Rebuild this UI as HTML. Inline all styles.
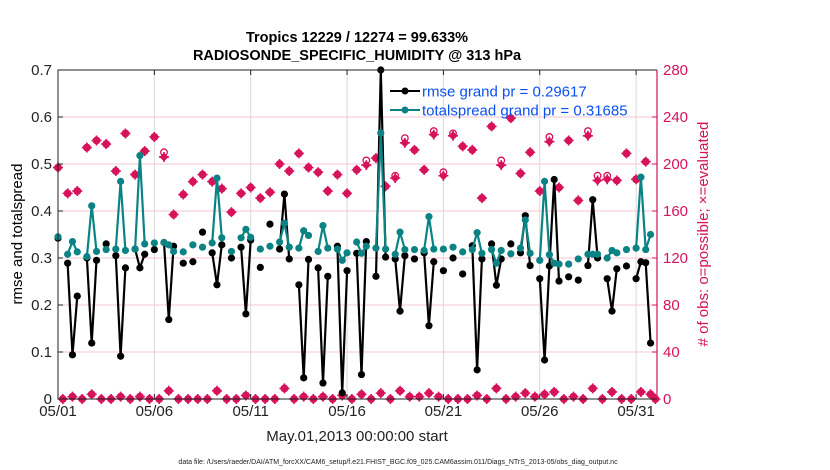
<!DOCTYPE html>
<html><head><meta charset="utf-8"><style>
body{margin:0;background:#fff;font-family:"Liberation Sans",sans-serif}
svg{display:block}
</style></head><body>
<svg id="chart" width="830" height="470" xmlns="http://www.w3.org/2000/svg" font-family="Liberation Sans, sans-serif">
<rect width="830" height="470" fill="#fff"/>
<text x="357" y="42" text-anchor="middle" font-size="14.5" font-weight="bold">Tropics 12229 / 12274 = 99.633%</text>
<text x="357" y="60" text-anchor="middle" font-size="14.5" font-weight="bold">RADIOSONDE_SPECIFIC_HUMIDITY @ 313 hPa</text>
<g id="grid"></g>
<g id="marks"></g>
<g id="axes"></g>
<text transform="translate(22,234) rotate(-90)" text-anchor="middle" font-size="15">rmse and totalspread</text>
<text transform="translate(708,234) rotate(-90)" text-anchor="middle" font-size="15" fill="#d6135a"># of obs: o=possible; ×=evaluated</text>
<text x="357" y="441" text-anchor="middle" font-size="15" fill="#222">May.01,2013 00:00:00 start</text>
<text x="398" y="464" text-anchor="middle" font-size="7" fill="#222">data file: /Users/raeder/DAI/ATM_forcXX/CAM6_setup/f.e21.FHIST_BGC.f09_025.CAM6assim.011/Diags_NTrS_2013-05/obs_diag_output.nc</text>
<g>
<line x1="390" y1="91" x2="420" y2="91" stroke="#000" stroke-width="2"/>
<circle cx="405" cy="91" r="3.5" fill="#000"/>
<text x="422" y="96.5" font-size="15" fill="#0a50f0">rmse grand pr = 0.29617</text>
<line x1="390" y1="110" x2="420" y2="110" stroke="#0b8385" stroke-width="2"/>
<circle cx="405" cy="110" r="3.5" fill="#0b8385"/>
<text x="422" y="115.5" font-size="15" fill="#0a50f0">totalspread grand pr = 0.31685</text>
</g>
</svg>
<script>
const rmse=[.342,null,.289,.094,.219,null,.30,.119,.295,null,.33,null,.305,.091,.279,null,.319,.279,.308,null,
.318,null,.333,.169,.325,null,.289,null,.292,null,.355,null,.311,.243,.328,null,.30,null,.323,.181,
.338,null,.28,null,.372,null,.319,.436,.298,null,.243,.045,.297,null,.279,.034,.261,null,.325,.013,
.273,null,.31,.052,.335,null,.261,.70,.302,null,.298,.187,.305,null,.298,null,.311,.156,.292,null,
.273,null,.30,null,.266,null,.326,.062,.298,null,.33,.242,.298,null,.33,null,.311,.390,.284,null,
.256,.083,.283,.467,.251,null,.26,null,.253,null,.284,.424,.30,null,.256,.187,.277,null,.283,null,
.256,.292,.29,.119,null];
const spread=[.345,null,.308,.335,.313,null,.303,.411,.314,null,.318,null,.319,.463,.316,null,.319,.518,.33,null,
.332,null,.333,.328,.314,null,.313,null,.328,null,.323,null,.332,.47,.343,null,.314,null,.343,.361,
.344,null,.319,null,.325,null,.334,.374,.323,null,.321,.358,.348,null,.314,.369,.321,null,.319,.295,
.311,null,.334,.31,.325,null,.321,.566,.319,null,.308,.355,.318,null,.318,null,.316,.388,.319,null,
.319,null,.323,null,.313,null,.318,.354,.31,null,.318,.289,.316,null,.309,null,.321,.381,.31,null,
.295,.463,.307,.289,.287,null,.287,null,.298,null,.308,.308,.308,null,.30,.316,.311,null,.318,null,
.321,.472,.318,.35,null];
const evaluated=[197,0,175,2,177,0,214,4,220,0,217,0,194,2,226,0,191,2,211,0,
223,0,206,7,157,0,174,0,185,0,191,0,185,7,179,0,159,0,175,3,
180,0,171,0,176,0,200,9,194,0,209,2,197,0,193,2,177,0,191,3,
175,0,195,4,199,0,205,5,181,0,188,7,218,2,212,2,195,5,225,2,
190,0,224,0,215,0,212,3,171,0,232,9,199,0,239,2,192,5,210,2,
177,4,219,6,180,0,220,2,169,0,224,9,186,0,187,6,186,0,209,0,
187,6,202,4,0];
const possible=[197,0,175,2,177,0,214,4,220,0,217,0,194,2,226,0,191,2,211,0,
223,0,210,7,157,0,174,0,185,0,191,0,185,7,179,0,159,0,175,3,
180,0,171,0,176,0,200,9,194,0,209,2,197,0,193,2,177,0,191,3,
175,0,195,4,203,0,205,5,181,0,190,7,222,2,212,2,195,5,228,2,
193,0,226,0,215,0,212,3,171,0,232,9,203,0,239,2,192,5,210,2,
177,4,223,6,180,0,220,2,169,0,228,9,190,0,190,6,186,0,209,0,
187,6,202,4,0];
const xTickLabels=["05/01","05/06","05/11","05/16","05/21","05/26","05/31"];
const xTickDays=[0,5,10,15,20,25,30];
const leftTicks=[0,0.1,0.2,0.3,0.4,0.5,0.6,0.7];
const leftTickLabels=["0","0.1","0.2","0.3","0.4","0.5","0.6","0.7"];
const rightTicks=[0,40,80,120,160,200,240,280];

const X0=58,X1=657,Y0=399,Y1=70,PXDAY=19.27;
const binDays=0.25;
function xDay(d){return X0+d*PXDAY;}
function xBin(i){return xDay(i*binDays);}
function yL(v){return Y0-(v/0.7)*(Y0-Y1);}
function yR(v){return Y0-(v/280)*(Y0-Y1);}
const NS='http://www.w3.org/2000/svg';
function mk(tag,attrs,parent){const e=document.createElementNS(NS,tag);for(const k in attrs)e.setAttribute(k,attrs[k]);parent.appendChild(e);return e;}
const grid=document.getElementById('grid'),marks=document.getElementById('marks'),axes=document.getElementById('axes');

xTickDays.forEach((d,i)=>{
  const g=mk('line',{x1:xDay(d),x2:xDay(d),y1:Y1,y2:Y0,stroke:'#d9d9d9','stroke-width':1},grid);
  
  
  const t=mk('text',{x:xDay(d),y:416,'text-anchor':'middle','font-size':15,fill:'#222'},axes);
  t.textContent=xTickLabels[i];
  
  
  const tk=mk('line',{x1:xDay(d),x2:xDay(d),y1:Y0,y2:Y0-5,stroke:'#222'},axes);
  
  
  const tk2=mk('line',{x1:xDay(d),x2:xDay(d),y1:Y1,y2:Y1+5,stroke:'#222'},axes);
  
  
});
leftTicks.forEach((v,i)=>{
  if(v>0&&v<0.7){
    const g=mk('line',{x1:X0,x2:X1,y1:yL(v),y2:yL(v),stroke:'#f3c6d6','stroke-width':1},grid);
    
    
  }
  const t=mk('text',{x:52,y:yL(v)+5,'text-anchor':'end','font-size':15,fill:'#222'},axes);
  t.textContent=leftTickLabels[i];
  
  
  const tk=mk('line',{x1:X0,x2:X0+5,y1:yL(v),y2:yL(v),stroke:'#222'},axes);
  
  
});
rightTicks.forEach(v=>{
  const t=mk('text',{x:663,y:yR(v)+5,'font-size':15,fill:'#d6135a'},axes);
  t.textContent=String(v);
  
  
  const tk=mk('line',{x1:X1,x2:X1-5,y1:yR(v),y2:yR(v),stroke:'#d6135a'},axes);
  
  
});
const fr=mk('path',{d:`M${X1},${Y1}H${X0}V${Y0}H${X1}`,fill:'none',stroke:'#222','stroke-width':1},axes);


const ra=mk('line',{x1:X1,x2:X1,y1:Y1,y2:Y0,stroke:'#d6135a','stroke-width':1.2},axes);



// count markers
possible.forEach((v,i)=>{
  const c=mk('circle',{cx:xBin(i),cy:yR(v),r:3.3,fill:'none',stroke:'#d6135a','stroke-width':1.3},marks);
  
  
});
evaluated.forEach((v,i)=>{
  const x=xBin(i),y=yR(v);
  const g=mk('g',{},marks);
  
  
  mk('path',{d:`M${x},${y-4.5}L${x+4.5},${y}L${x},${y+4.5}L${x-4.5},${y}Z`,fill:'#d6135a'},g);
  mk('path',{d:`M${x-5},${y}H${x+5}M${x},${y-5}V${y+5}`,stroke:'#d6135a','stroke-width':1.6},g);
});
function series(arr,color,name){
  let d='',pen=false;
  arr.forEach((v,i)=>{
    if(v===null){pen=false;return;}
    d+=(pen?'L':'M')+xBin(i).toFixed(1)+','+yL(v).toFixed(1);pen=true;
  });
  const p=mk('path',{d:d,fill:'none',stroke:color,'stroke-width':2.2,'stroke-linejoin':'round'},marks);
  
  
  arr.forEach((v,i)=>{
    if(v===null)return;
    const c=mk('circle',{cx:xBin(i),cy:yL(v),r:3.6,fill:color},marks);
    
    
  });
}
series(rmse,'#000','rmse');
series(spread,'#0b8385','totalspread');
</script>
</body></html>
